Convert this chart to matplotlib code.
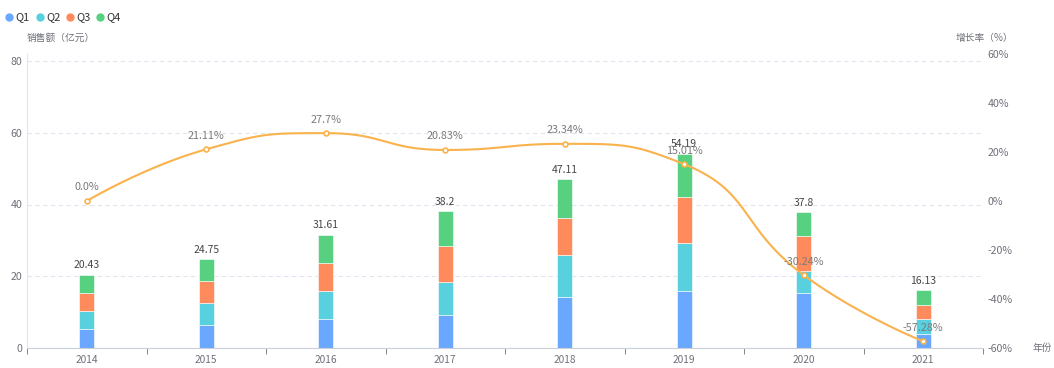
import numpy as np
import matplotlib
matplotlib.use("Agg")
import matplotlib.pyplot as plt
from matplotlib.lines import Line2D
from matplotlib.ticker import FixedLocator, FuncFormatter

plt.rcParams["font.family"] = ["Noto Sans CJK SC", "DejaVu Sans"]

# -------------------------
# Data
# -------------------------
years = ["2014", "2015", "2016", "2017", "2018", "2019", "2020", "2021"]
q1 = [5.4, 6.5, 8.1, 9.1, 14.1, 15.8, 15.4, 3.95]
q2 = [5.0, 6.0, 7.8, 9.4, 11.7, 13.6, 6.1, 4.1]
q3 = [5.0, 6.3, 7.9, 10.0, 10.45, 12.8, 9.8, 3.95]
q4 = [5.03, 5.95, 7.81, 9.7, 10.86, 11.99, 6.5, 4.13]
totals = [20.43, 24.75, 31.61, 38.2, 47.11, 54.19, 37.8, 16.13]
growth = [0.0, 21.11, 27.7, 20.83, 23.34, 15.01, -30.24, -57.28]
growth_labels = ["0.0%", "21.11%", "27.7%", "20.83%", "23.34%", "15.01%", "-30.24%", "-57.28%"]

series_names = ["Q1", "Q2", "Q3", "Q4"]
colors = ["#6AA7FF", "#58D0DE", "#FF8A5C", "#57D17F"]
line_color = "#F9B24C"
text_gray = "#6E7079"

FIG_W, FIG_H = 1054, 368
AX_L, AX_R, AX_T, AX_B = 27, 983, 54, 348


def smooth_curve(px, py, smooth=0.5, n=40):
    """Bezier smoothing in pixel space with control points kept between neighbours."""
    pts = np.column_stack([px, py]).astype(float)
    m = len(pts)
    cp_in = [p.copy() for p in pts]
    cp_out = [p.copy() for p in pts]
    for i in range(1, m - 1):
        p = pts[i]
        prev, nxt = pts[i - 1], pts[i + 1]
        v = nxt - prev
        len_prev = np.hypot(*(p - prev))
        len_next = np.hypot(*(nxt - p))
        ratio = len_next / (len_next + len_prev)
        nc = p + v * smooth * ratio
        nc = np.minimum(nc, np.maximum(nxt, p))
        nc = np.maximum(nc, np.minimum(nxt, p))
        v = nc - p
        pc = p - v * len_prev / len_next
        pc = np.minimum(pc, np.maximum(prev, p))
        pc = np.maximum(pc, np.minimum(prev, p))
        v = p - pc
        nc = p + v * len_next / len_prev
        cp_in[i] = pc
        cp_out[i] = nc
    out = []
    t = np.linspace(0, 1, n)[:, None]
    for i in range(m - 1):
        p1, c1, c2, p2 = pts[i], cp_out[i], cp_in[i + 1], pts[i + 1]
        seg = ((1 - t) ** 3) * p1 + 3 * ((1 - t) ** 2) * t * c1 + 3 * (1 - t) * t ** 2 * c2 + t ** 3 * p2
        out.append(seg if i == 0 else seg[1:])
    seg = np.vstack(out)
    return seg[:, 0], seg[:, 1]


fig = plt.figure(figsize=(FIG_W / 100, FIG_H / 100), dpi=100)
ax = fig.add_axes([AX_L / FIG_W, (FIG_H - AX_B) / FIG_H,
                   (AX_R - AX_L) / FIG_W, (AX_B - AX_T) / FIG_H])
ax2 = ax.twinx()

x = np.arange(len(years))
bottom = np.zeros(len(years))
for vals, name, col in zip([q1, q2, q3, q4], series_names, colors):
    ax.bar(x, vals, width=0.125, bottom=bottom, color=col, label=name,
           edgecolor="white", linewidth=0.4, zorder=2)
    bottom += np.array(vals)

for xi, tot, top in zip(x, totals, bottom):
    ax.text(xi, top + 1.2, f"{tot:g}", ha="center", va="bottom",
            fontsize=7.5, color="#464646", zorder=3)

ax.set_xlim(-0.5, len(years) - 0.5)
ax.set_ylim(0, 80 * (AX_B - AX_T) / 287)
ax.yaxis.set_major_locator(FixedLocator([0, 20, 40, 60, 80]))
ax.grid(axis="y", color="#E0E6F1", linestyle=(0, (4, 3)), linewidth=0.8, zorder=0)
ax.set_axisbelow(True)
ax.set_xticks(x)
ax.set_xticklabels(years)
ax.xaxis.set_minor_locator(FixedLocator(np.arange(-0.5, len(years), 1.0)))
ax.tick_params(axis="x", which="major", length=0, pad=5, labelsize=7.3, labelcolor=text_gray)
ax.tick_params(axis="x", which="minor", length=4, color="#6E7079")
ax.tick_params(axis="y", length=0, pad=3.5, labelsize=7.6, labelcolor=text_gray)

for side in ["top", "right"]:
    ax.spines[side].set_visible(False)
    ax2.spines[side].set_visible(False)
ax.spines["left"].set_color("#E0E6F1")
ax.spines["bottom"].set_color("#C9D0DA")
ax2.spines["left"].set_visible(False)
ax2.spines["bottom"].set_visible(False)

ax2.set_ylim(-60, 60)
ax2.yaxis.set_major_locator(FixedLocator([-60, -40, -20, 0, 20, 40, 60]))
ax2.yaxis.set_major_formatter(FuncFormatter(lambda v, p: f"{int(v)}%"))
ax2.tick_params(axis="y", length=0, pad=3.5, labelsize=7.6, labelcolor=text_gray)

# growth line, smoothed in pixel space
px_per_cat = (AX_R - AX_L) / len(years)
px_per_pct = (AX_B - AX_T) / 120
sx, sy = smooth_curve(x * px_per_cat, np.array(growth) * px_per_pct, smooth=0.5)
ax2.plot(sx / px_per_cat, sy / px_per_pct, color=line_color, linewidth=1.5, zorder=4)
ax2.plot(x, growth, linestyle="none", marker="o", markersize=3.5,
         markerfacecolor="white", markeredgecolor=line_color, markeredgewidth=1.2, zorder=5)
for xi, g, lab in zip(x, growth, growth_labels):
    ax2.text(xi, g + 3.5, lab, ha="center", va="bottom", fontsize=7.8, color="#7A7A7A", zorder=6)

# axis names
fig.text(27 / FIG_W, 1 - 38 / FIG_H, "销售额（亿元）", fontsize=7, color=text_gray, ha="left", va="center")
fig.text(956 / FIG_W, 1 - 38 / FIG_H, "增长率（%）", fontsize=7, color=text_gray, ha="left", va="center")
fig.text(1033 / FIG_W, 1 - 348 / FIG_H, "年份", fontsize=7, color=text_gray, ha="left", va="center")

# legend drawn by hand at the top-left
legend_x = [9, 40, 70, 100]
for lx, name, col in zip(legend_x, series_names, colors):
    fig.add_artist(Line2D([lx / FIG_W], [1 - 17 / FIG_H], transform=fig.transFigure,
                          marker="o", linestyle="none", markersize=5,
                          markerfacecolor=col, markeredgecolor=col))
    fig.text((lx + 6) / FIG_W, 1 - 17 / FIG_H, name, fontsize=8, color="#333333",
             ha="left", va="center")

fig.savefig("out.png", dpi=100)
